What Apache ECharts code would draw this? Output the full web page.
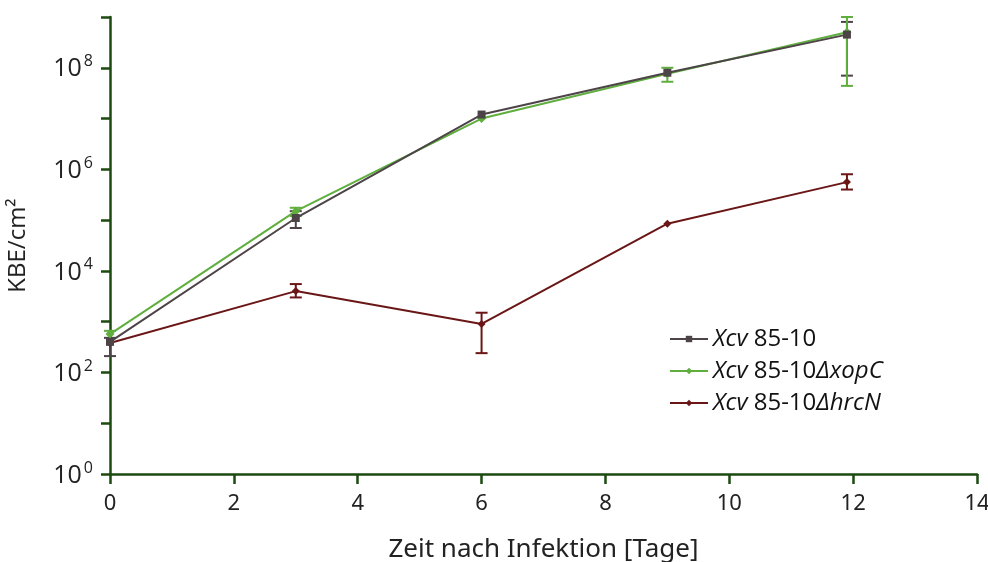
<!DOCTYPE html>
<html><head><meta charset="utf-8">
<script src="https://cdn.jsdelivr.net/npm/echarts@6/dist/echarts.min.js"></script>
<style>html,body{margin:0;padding:0;background:#fff}#c{width:988px;height:562px}</style>
</head><body><div id="c"></div>
<script>
const days = [0, 3, 6, 9, 11.9];
const seriesNames = ['Xcv 85-10', 'Xcv 85-10ΔxopC', 'Xcv 85-10ΔhrcN'];
const wtMean = [400, 1.1e5, 1.2e7, 8e7, 4.5e8];
const wtLow  = [210, 7e4, null, null, 7e7];
const wtHigh = [480, 1.5e5, null, null, 8e8];
const xopMean = [570, 1.5e5, 1.0e7, 7.6e7, 5.0e8];
const xopLow  = [null, 1.2e5, null, 5.3e7, 4.4e7];
const xopHigh = [660, 1.75e5, null, 1.0e8, 1.0e9];
const hrcMean = [380, 4.0e3, 900, 8.5e4, 5.6e5];
const hrcLow  = [null, 3.0e3, 240, null, 4.0e5];
const hrcHigh = [null, 5.5e3, 1500, null, 8.0e5];
const xTicks = [0, 2, 4, 6, 8, 10, 12, 14];

const colors = ['#4d4448', '#5fae3e', '#6b1616'];
const axisColor = '#1c4a10';

function pairs(m){ return days.map((d,i)=>[d,m[i]]); }
function errSeries(name, lo, hi, color, means){
  return {
    type:'custom', name: name+'_err', silent:true, z:3,
    data: days.map((d,i)=>[d, lo[i]!=null?lo[i]:means[i], hi[i]!=null?hi[i]:means[i], lo[i]!=null?1:0])
              .filter((r,i)=>lo[i]!=null||hi[i]!=null),
    renderItem(params, api){
      const x = api.value(0);
      const p1 = api.coord([x, api.value(1)]);
      const p2 = api.coord([x, api.value(2)]);
      const w = 6;
      const st = {stroke: color, lineWidth: 2};
      const ch = [{type:'line', shape:{x1:p1[0],y1:p1[1],x2:p2[0],y2:p2[1]}, style:st}];
      if (api.value(3) === 1) ch.push({type:'line', shape:{x1:p1[0]-w,y1:p1[1],x2:p1[0]+w,y2:p1[1]}, style:st});
      ch.push({type:'line', shape:{x1:p2[0]-w,y1:p2[1],x2:p2[0]+w,y2:p2[1]}, style:st});
      return {type:'group', children: ch};
    }
  };
}

const chart = echarts.init(document.getElementById('c'));
const LF = 24;
const legendRich = {
  i: {fontStyle:'italic', fontSize:LF, fontFamily:'Open Sans', color:'#111'},
  n: {fontSize:LF, fontFamily:'Open Sans', color:'#111'}
};
chart.setOption({
  animation:false,
  grid:{left:110, right:11, top:17, bottom:88, outerBoundsMode:'none', containLabel:false},
  legend:{
    data: seriesNames, orient:'vertical', left:664, top:322, itemGap:8, itemWidth:38, itemHeight:8,
    textStyle:{fontFamily:'Open Sans', fontSize:LF, color:'#111', rich: legendRich},
    formatter(n){
      if (n==='Xcv 85-10') return '{i|Xcv}{n| 85-10}';
      if (n==='Xcv 85-10ΔxopC') return '{i|Xcv}{n| 85-10}{i|ΔxopC}';
      return '{i|Xcv}{n| 85-10}{i|ΔhrcN}';
    }
  },
  xAxis:{
    type:'value', min:0, max:14, interval:2,
    name:'Zeit nach Infektion [Tage]', nameLocation:'middle', nameGap:63,
    nameTextStyle:{fontFamily:'Noto Sans', fontSize:26, color:'#222'},
    axisLine:{show:true, onZero:false, lineStyle:{color:axisColor, width:2.5}},
    axisTick:{show:true, length:10, lineStyle:{color:axisColor, width:2.5}},
    axisLabel:{margin:19, fontFamily:'Noto Sans', fontSize:22, color:'#222', showMaxLabel:true},
    splitLine:{show:false}
  },
  yAxis:{
    type:'log', logBase:10, min:1, max:1e9, interval:1,
    name:'KBE/cm²', nameLocation:'middle', nameGap:80,
    nameTextStyle:{fontFamily:'Open Sans', fontSize:24, color:'#222'},
    axisLine:{show:true, lineStyle:{color:axisColor, width:2.5}},
    axisTick:{show:true, length:9, lineStyle:{color:axisColor, width:2.5}},
    axisLabel:{
      margin:17, color:'#222',
      formatter(v){
        const e = Math.round(Math.log10(v));
        if (e % 2 !== 0 || e > 8) return '';
        return '{b|10}{s|' + e + '}';
      },
      rich:{
        b:{fontFamily:'Open Sans', fontSize:25, color:'#222', verticalAlign:'bottom'},
        s:{fontFamily:'Open Sans', fontSize:16, color:'#222', verticalAlign:'top', padding:[0,0,12,2]}
      }
    },
    splitLine:{show:false}
  },
  series:[
    errSeries('wt', wtLow, wtHigh, colors[0], wtMean),
    errSeries('xop', xopLow, xopHigh, colors[1], xopMean),
    errSeries('hrc', hrcLow, hrcHigh, colors[2], hrcMean),
    {name:seriesNames[2], type:'line', data:pairs(hrcMean), symbol:'diamond', symbolSize:8, z:4,
      itemStyle:{color:colors[2]}, lineStyle:{color:colors[2], width:2}},
    {name:seriesNames[1], type:'line', data:pairs(xopMean), symbol:'diamond', symbolSize:9, z:5,
      itemStyle:{color:colors[1]}, lineStyle:{color:colors[1], width:2}},
    {name:seriesNames[0], type:'line', data:pairs(wtMean), symbol:'rect', symbolSize:8, z:6,
      itemStyle:{color:colors[0]}, lineStyle:{color:colors[0], width:2}}
  ]
});
</script></body></html>
